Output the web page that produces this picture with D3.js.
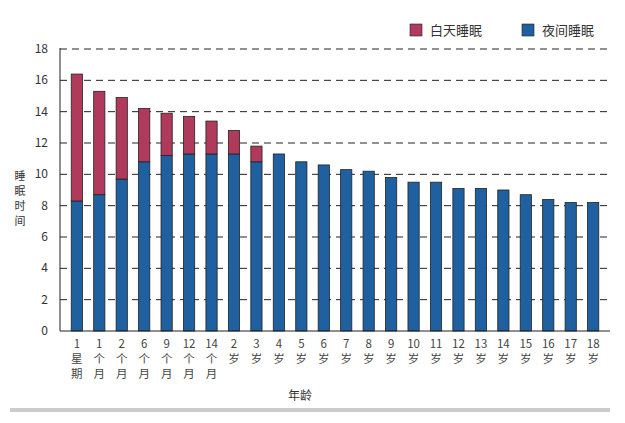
<!DOCTYPE html><html><head><meta charset="utf-8"><script src="https://cdn.jsdelivr.net/npm/d3@7"></script>
<style>body{margin:0;background:#fff}text{font-family:"Noto Sans CJK SC","Noto Sans",sans-serif}</style></head><body>
<svg id="c" width="625" height="423"></svg>
<script>
const categories=[["1","星","期"],["1","个","月"],["2","个","月"],["6","个","月"],["9","个","月"],["12","个","月"],["14","个","月"],["2","岁"],["3","岁"],["4","岁"],["5","岁"],["6","岁"],["7","岁"],["8","岁"],["9","岁"],["10","岁"],["11","岁"],["12","岁"],["13","岁"],["14","岁"],["15","岁"],["16","岁"],["17","岁"],["18","岁"]];
const nightSleep=[8.3,8.7,9.7,10.8,11.2,11.3,11.3,11.3,10.8,11.3,10.8,10.6,10.3,10.2,9.8,9.5,9.5,9.1,9.1,9.0,8.7,8.4,8.2,8.2];
const daySleep=[8.1,6.6,5.2,3.4,2.7,2.4,2.1,1.5,1.0,0,0,0,0,0,0,0,0,0,0,0,0,0,0,0];
const yTicks=[0,2,4,6,8,10,12,14,16,18];
const seriesNames=["白天睡眠","夜间睡眠"];
const colors=["#b03a5c","#1f60a0"];
const svg=d3.select("#c");
const L=60,R=610,T=48,B=331;
const x=d3.scaleBand().domain(d3.range(categories.length)).range([L,R]).padding(0.5);
const y=d3.scaleLinear().domain([0,18]).range([B,T+1]);
svg.append("rect").attr("x",10).attr("y",408).attr("width",600).attr("height",4).attr("fill","#ccc");
svg.selectAll(".g").data(yTicks.filter(d=>d>0)).join("line").attr("x1",L).attr("x2",R).attr("y1",d=>y(d)).attr("y2",d=>y(d)).attr("stroke","#222").attr("stroke-dasharray","7,5");
svg.selectAll(".yt").data(yTicks).join("text").attr("x",L-12).attr("y",d=>y(d)+4).attr("text-anchor","end").attr("font-size",12).attr("fill","#333").text(d=>d);
svg.selectAll(".n").data(nightSleep).join("rect").attr("x",(d,i)=>x(i)).attr("width",x.bandwidth()).attr("y",d=>y(d)).attr("height",d=>B-y(d)).attr("fill",colors[1]).attr("stroke","#222").attr("stroke-width",0.8);
svg.selectAll(".d").data(daySleep).join("rect").filter(d=>d>0).attr("x",(d,i)=>x(i)).attr("width",x.bandwidth()).attr("y",(d,i)=>y(d+nightSleep[i])).attr("height",(d,i)=>y(nightSleep[i])-y(d+nightSleep[i])).attr("fill",colors[0]).attr("stroke","#222").attr("stroke-width",0.8);
svg.append("line").attr("x1",L).attr("x2",L).attr("y1",T).attr("y2",B).attr("stroke","#222");
svg.append("line").attr("x1",L).attr("x2",R).attr("y1",B).attr("y2",B).attr("stroke","#222");
categories.forEach((c,i)=>{c.forEach((s,j)=>svg.append("text").attr("x",x(i)+x.bandwidth()/2).attr("y",348+j*15).attr("text-anchor","middle").attr("font-size",11.5).attr("fill","#444").text(s));});
svg.append("text").attr("x",300).attr("y",400).attr("text-anchor","middle").attr("font-size",12).attr("fill","#333").text("年龄");
["睡","眠","时","间"].forEach((s,i)=>svg.append("text").attr("x",20).attr("y",180+i*15).attr("text-anchor","middle").attr("font-size",11).attr("fill","#333").text(s));
const lg=[[410,seriesNames[0],colors[0]],[522,seriesNames[1],colors[1]]];
lg.forEach(([lx,t,c])=>{svg.append("rect").attr("x",lx).attr("y",24).attr("width",12).attr("height",12).attr("fill",c).attr("stroke","#222").attr("stroke-width",0.6);svg.append("text").attr("x",lx+20).attr("y",35).attr("font-size",13).attr("fill","#333").text(t);});
</script></body></html>
